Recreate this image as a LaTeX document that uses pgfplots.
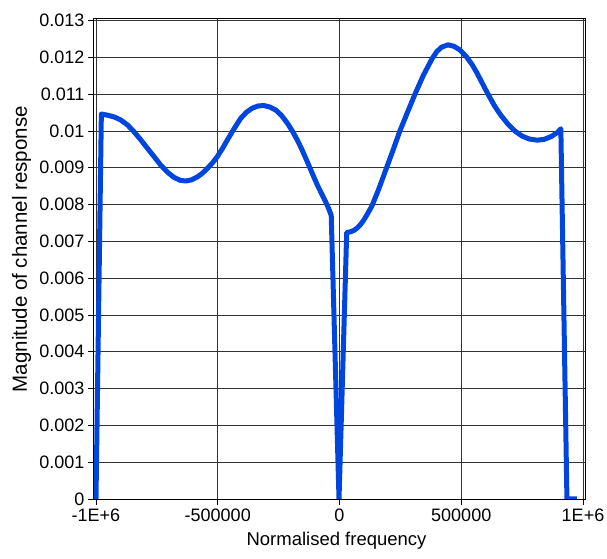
\documentclass[border=0pt]{standalone}
\usepackage{fontspec}
\setmainfont{Liberation Sans}
\usepackage{pgfplots}
\pgfplotsset{compat=1.18}
\definecolor{curveblue}{RGB}{0,70,222}
\begin{document}
\begin{tikzpicture}
\begin{axis}[
  scale only axis,
  width=491bp, height=480.3bp,
  xmin=-1008200, xmax=1008200,
  ymin=0, ymax=0.01305,
  scaled ticks=false,
  axis line style={black, line width=1bp},
  xtick={-1000000,-500000,0,500000,1000000},
  xticklabels={-1E+6,-500000,0,500000,1E+6},
  ytick={0,0.001,0.002,0.003,0.004,0.005,0.006,0.007,0.008,0.009,0.01,0.011,0.012,0.013},
  yticklabels={0,0.001,0.002,0.003,0.004,0.005,0.006,0.007,0.008,0.009,0.01,0.011,0.012,0.013},
  xtick pos=lower, ytick pos=left,
  tick align=outside,
  major tick length=6bp,
  tick style={black, line width=0.8bp},
  grid=major,
  major grid style={black!80, line width=0.8bp},
  tick label style={font=\fontsize{18bp}{20bp}\selectfont},
  /pgf/number format/assume math mode=true,
  every axis x label/.style={at={(axis description cs:0.494,-0.0958)}, anchor=base, font=\fontsize{18.5bp}{20bp}\selectfont},
  every axis y label/.style={at={(axis description cs:-0.1365,0.52)}, rotate=90, anchor=base, font=\fontsize{20.5bp}{22bp}\selectfont},
  xlabel={Normalised frequency},
  ylabel={Magnitude of channel response},
]
\addplot[curveblue, line width=5bp, line join=round, no markers] coordinates {
(-1000000,0)
(-978000,0.01046)
(-954000,0.01043)
(-925000,0.01038)
(-899000,0.01030)
(-870000,0.01016)
(-844000,0.00998)
(-815000,0.00975)
(-789000,0.00953)
(-760000,0.00929)
(-734000,0.00907)
(-705000,0.00887)
(-680000,0.00874)
(-655000,0.00866)
(-632000,0.00864)
(-608000,0.00867)
(-584000,0.00875)
(-563000,0.00885)
(-543000,0.00898)
(-522000,0.00913)
(-502000,0.00930)
(-480000,0.00953)
(-461000,0.00975)
(-433000,0.01006)
(-406000,0.01034)
(-382000,0.01051)
(-358000,0.01062)
(-334000,0.01068)
(-310000,0.01069)
(-286000,0.01065)
(-262000,0.01057)
(-238000,0.01042)
(-214000,0.01021)
(-193000,0.00999)
(-173000,0.00975)
(-152000,0.00946)
(-132000,0.00916)
(-112000,0.00885)
(-91000,0.00853)
(-70000,0.00825)
(-50000,0.00798)
(-34000,0.00771)
(-2000,0)
(29600,0.00724)
(45000,0.00726)
(60000,0.00730)
(72000,0.00736)
(84000,0.00744)
(97000,0.00755)
(110000,0.00769)
(133000,0.00796)
(160000,0.00840)
(195000,0.00903)
(220000,0.00948)
(248000,0.01000)
(280000,0.01052)
(310000,0.01100)
(345000,0.01152)
(380000,0.01196)
(400000,0.01216)
(420000,0.01228)
(446000,0.01234)
(470000,0.01230)
(495000,0.01220)
(523000,0.01200)
(545000,0.01180)
(565000,0.01157)
(590000,0.01125)
(610000,0.01100)
(635000,0.01070)
(660000,0.01045)
(690000,0.01020)
(720000,0.01000)
(750000,0.00986)
(780000,0.00978)
(811000,0.00975)
(840000,0.00977)
(870000,0.00985)
(895000,0.00996)
(909000,0.01006)
(934000,0)
(975000,0)
};
\end{axis}
\pgfresetboundingbox
\path[use as bounding box] ([xshift=-94bp,yshift=-60bp]current axis.south west) rectangle ([xshift=22bp,yshift=18.7bp]current axis.north east);
\end{tikzpicture}
\end{document}
